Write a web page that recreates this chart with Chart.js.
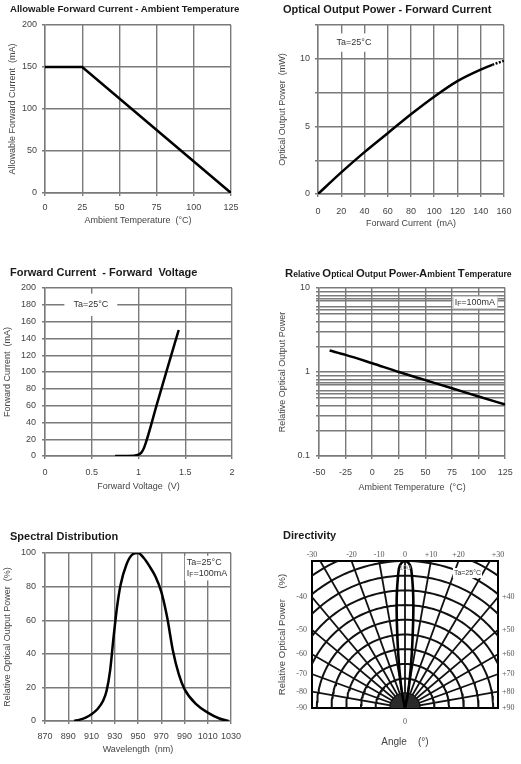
<!DOCTYPE html>
<html>
<head>
<meta charset="utf-8">
<script src="https://cdn.jsdelivr.net/npm/chart.js@4.4.1/dist/chart.umd.min.js"></script>
<style>
  body { margin: 0; background: #fff; width: 521px; height: 764px; position: relative; overflow: hidden; font-family: "Liberation Sans", Arial, sans-serif; }
  canvas { position: absolute; }
  .ttl { position: absolute; font-weight: bold; color: #1a1a1a; white-space: nowrap; font-size: 11px; line-height: 13px; }
  .ttl .c { font-size: 11.3px; }
  .ttl .s { font-size: 8.6px; }
</style>
</head>
<body>
<canvas id="c1" width="260" height="240" style="left:0;top:0"></canvas>
<canvas id="c2" width="261" height="240" style="left:260px;top:0"></canvas>
<canvas id="c3" width="260" height="240" style="left:0;top:260px"></canvas>
<canvas id="c4" width="261" height="240" style="left:260px;top:260px"></canvas>
<canvas id="c5" width="260" height="244" style="left:0;top:520px"></canvas>
<canvas id="c6" width="261" height="244" style="left:260px;top:520px"></canvas>

<div class="ttl" style="left:10px;top:3px;font-size:9.6px;line-height:12px">Allowable Forward Current - Ambient Temperature</div>
<div class="ttl" style="left:283px;top:3px">Optical Output Power - Forward Current</div>
<div class="ttl" style="left:10px;top:266px">Forward Current&nbsp; - Forward&nbsp; Voltage</div>
<div class="ttl" style="left:285px;top:267px"><span class="c">R</span><span class="s">elative </span><span class="c">O</span><span class="s">ptical </span><span class="c">O</span><span class="s">utput </span><span class="c">P</span><span class="s">ower-</span><span class="c">A</span><span class="s">mbient </span><span class="c">T</span><span class="s">emperature</span></div>
<div class="ttl" style="left:10px;top:530px">Spectral Distribution</div>
<div class="ttl" style="left:283px;top:529px">Directivity</div>

<script>
// ---- data ----
// Allowable forward current vs ambient temperature
const derateTemp = [0, 25, 125];
const derateCurrent = [150, 150, 0];

// Optical output power vs forward current
const powerCurrent = [0, 20, 40, 60, 80, 100, 120, 140, 150, 160];
const powerOut = [0, 1.6, 3.1, 4.5, 5.9, 7.2, 8.35, 9.2, 9.55, 9.85];

// Forward current vs forward voltage
const ivVoltage = [0.75, 0.95, 1.0, 1.03, 1.06, 1.2, 1.3, 1.43];
const ivCurrent = [0, 0.3, 1.5, 4, 10, 63, 101, 150];

// Relative output power vs ambient temperature (log)
const relTemp = [-40, -25, 0, 25, 50, 75, 100, 125];
const relPower = [1.8, 1.6, 1.27, 1.0, 0.8, 0.64, 0.51, 0.41];
const logMantissas = [1, 2, 3, 4, 5, 5.5, 6, 7, 7.5, 8, 9];

// Spectral distribution
const wavelength = [895, 900, 905, 910, 915, 920, 923, 926, 929, 932, 935, 940, 945, 950, 955, 960, 965, 970, 975, 980, 985, 990, 1000, 1010, 1020, 1028];
const spectrum = [0, 0.8, 2, 4, 7, 12, 18, 30, 50, 68, 81, 93, 99, 100, 97, 92, 86, 77, 62, 42, 28, 19, 10, 5, 1.5, 0];

// Directivity
const lobeAngle = [0, 1.5, 2.5, 4, 5, 6.5, 8, 10, 12, 15];
const lobePower = [100, 98.5, 95, 79, 65, 44, 29, 16, 9, 0];
const rayAngles = [-80, -70, -60, -50, -40, -30, -20, -10, 0, 10, 20, 30, 40, 50, 60, 70, 80];
const arcRadii = [10, 20, 30, 40, 50, 60, 70, 80, 90, 100, 110];
const topAngles = [-30, -20, -10, 0, 10, 20, 30];
const sideAngles = [40, 50, 60, 70, 80, 90];

// ---- helpers ----
Chart.defaults.font.family = '"Liberation Sans", Arial, sans-serif';
Chart.defaults.font.size = 9;
Chart.defaults.color = '#444';

const GRID = '#7a7a7a';
const SANS = '"Liberation Sans", Arial, sans-serif';

// text boxes like "Ta=25°C" placed at data coordinates
const notesPlugin = {
  id: 'notes',
  beforeDatasetsDraw(chart, args, opts) { drawNotes(chart, opts, false); },
  afterDatasetsDraw(chart, args, opts) { drawNotes(chart, opts, true); }
};

function drawNotes(chart, opts, top) {
  const ctx = chart.ctx;
  for (const n of opts.items || []) {
    if (!!n.top !== top) continue;
    const px = chart.scales[n.xAxis || 'x'].getPixelForValue(n.x);
    const py = chart.scales[n.yAxis || 'y'].getPixelForValue(n.y);
    const size = n.size || 9, lh = size * 1.15;
    const fam = n.family || SANS;
    ctx.save();
    const widths = n.lines.map(parts => parts.reduce((w, [t, sub]) => {
      ctx.font = (sub ? size * 0.75 : size) + 'px ' + fam;
      return w + ctx.measureText(t).width;
    }, 0));
    const tw = Math.max(...widths), th = lh * n.lines.length;
    const padX = n.padX ?? 3, padY = n.padY ?? 2;
    const left = n.align === 'left' ? px : px - tw / 2;
    const topY = py - th / 2;
    if (n.bg) {
      ctx.fillStyle = n.bg;
      ctx.fillRect(left - padX, topY - padY, tw + 2 * padX, th + 2 * padY);
    }
    if (n.border) {
      ctx.strokeStyle = n.border;
      ctx.lineWidth = 1;
      ctx.strokeRect(left - padX + 0.5, topY - padY + 0.5, tw + 2 * padX, th + 2 * padY);
    }
    ctx.fillStyle = n.color || '#333';
    ctx.textBaseline = 'middle';
    ctx.textAlign = 'left';
    n.lines.forEach((parts, i) => {
      let cx = left;
      const cy = topY + lh * (i + 0.5);
      parts.forEach(([t, sub]) => {
        ctx.font = (sub ? size * 0.75 : size) + 'px ' + fam;
        ctx.fillText(t, cx, sub ? cy + size * 0.25 : cy);
        cx += ctx.measureText(t).width;
      });
    });
    ctx.restore();
  }
}

function axis(o) {
  return {
    type: o.type || 'linear',
    position: o.position,
    min: o.min,
    max: o.max,
    afterBuildTicks: o.ticksAt,
    ticks: { stepSize: o.step, padding: o.pad, color: '#444', font: { size: 9 }, autoSkip: false, maxRotation: 0, callback: o.cb },
    grid: { color: GRID, lineWidth: 1.4, tickLength: 3 },
    border: { color: GRID, width: 1.4 },
    title: { display: true, text: o.title, color: '#444', font: { size: 9 }, padding: o.tpad },
    afterFit: s => { if (s.isHorizontal()) s.height = o.size; else s.width = o.size; }
  };
}

function curve(xs, ys, extra) {
  return Object.assign({
    data: xs.map((x, i) => ({ x, y: ys[i] })),
    borderColor: '#000',
    borderWidth: 2.5,
    pointRadius: 0,
    fill: false
  }, extra || {});
}

function opts(pad, scales, notes) {
  return {
    responsive: false,
    animation: false,
    events: [],
    layout: { padding: pad },
    plugins: { legend: { display: false }, tooltip: { enabled: false }, notes: { items: notes || [] } },
    scales
  };
}

function make(id, datasets, options) {
  return new Chart(document.getElementById(id), { type: 'line', data: { datasets }, options, plugins: [notesPlugin] });
}

// ---- 1: Allowable Forward Current - Ambient Temperature ----
make('c1', [curve(derateTemp, derateCurrent)], opts(
  { left: 0, right: 29, top: 25, bottom: 0 },
  {
    x: axis({ position: 'bottom', min: 0, max: 125, step: 25, pad: 6.6, size: 47, title: 'Ambient Temperature  (°C)', tpad: { top: 0, bottom: 14 } }),
    y: axis({ position: 'left', min: 0, max: 200, step: 50, pad: 5, size: 45, title: 'Allowable Forward Current  (mA)', tpad: { top: 7, bottom: 0 } })
  }
));

// ---- 2: Optical Output Power - Forward Current ----
make('c2', [curve(powerCurrent, powerOut, {
  cubicInterpolationMode: 'monotone',
  segment: { borderDash: ctx => ctx.p0DataIndex >= powerCurrent.length - 2 ? [2, 1.5] : undefined }
})], opts(
  { left: 0, right: 16, top: 25, bottom: 0 },
  {
    x: axis({ position: 'bottom', min: 0, max: 160, step: 20, pad: 9.6, size: 46, title: 'Forward Current  (mA)', tpad: { top: 0, bottom: 10.6 } }),
    y: axis({ position: 'left', min: 0, max: 12.5, step: 2.5, pad: 5, size: 58, title: 'Optical Output Power  (mW)', tpad: { top: 17, bottom: 0 },
      cb: v => (v % 5 === 0 ? String(v) : '') })
  },
  [{ x: 31, y: 11.2, lines: [[['Ta=25°C']]], bg: '#fff', padX: 4, padY: 4 }]
));

// ---- 3: Forward Current - Forward Voltage ----
make('c3', [curve(ivVoltage, ivCurrent, { cubicInterpolationMode: 'monotone' })], opts(
  { left: 0, right: 28, top: 28, bottom: 0 },
  {
    x: axis({ position: 'bottom', min: 0, max: 2, step: 0.5, pad: 8.3, size: 44, title: 'Forward Voltage  (V)', tpad: { top: 0, bottom: 7.9 } }),
    y: axis({ position: 'left', min: 0, max: 200, step: 20, pad: 6, size: 45, title: 'Forward Current  (mA)', tpad: { top: 2.6, bottom: 0 } })
  },
  [{ x: 0.49, y: 180, lines: [[['Ta=25°C']]], bg: '#fff', padX: 9, padY: 6 }]
));

// ---- 4: Relative Optical Output Power - Ambient Temperature ----
make('c4', [curve(relTemp, relPower, { cubicInterpolationMode: 'monotone' })], opts(
  { left: 0, right: 14, top: 28, bottom: 0 },
  {
    x: axis({ position: 'bottom', min: -50, max: 125, step: 25, pad: 8.3, size: 44, title: 'Ambient Temperature  (°C)', tpad: { top: 0, bottom: 7.3 } }),
    y: axis({ type: 'logarithmic', position: 'left', min: 0.1, max: 10, pad: 6, size: 59, title: 'Relative Optical Output Power', tpad: { top: 17.3, bottom: 0 },
      ticksAt: s => {
        const vals = [];
        [0.1, 1].forEach(d => logMantissas.forEach(m => vals.push(+(d * m).toPrecision(3))));
        vals.push(10);
        s.ticks = vals.map(v => ({ value: v }));
      },
      cb: v => ([0.1, 1, 10].includes(v) ? String(v) : '') })
  },
  [{ x: 96.5, y: 6.8, lines: [[['I'], ['F', 1], ['=100mA']]], bg: '#fff', border: '#c8c8c8', padX: 2, padY: 1 }]
));

// ---- 5: Spectral Distribution ----
make('c5', [curve(wavelength, spectrum, { cubicInterpolationMode: 'monotone' })], opts(
  { left: 0, right: 29, top: 33, bottom: 0 },
  {
    x: axis({ position: 'bottom', min: 870, max: 1030, step: 20, pad: 7.3, size: 43, title: 'Wavelength  (nm)', tpad: { top: 0, bottom: 8.6 } }),
    y: axis({ position: 'left', min: 0, max: 100, step: 20, pad: 6, size: 45, title: 'Relative Optical Output Power  (%)', tpad: { top: 2, bottom: 0 } })
  },
  [{ x: 992, y: 91, align: 'left', lines: [[['Ta=25°C']], [['I'], ['F', 1], ['=100mA']]], bg: '#fff', padX: 2, padY: 2 }]
));

// ---- 6: Directivity (polar grid drawn in a rectangle) ----
const xHalf = 63.3;
const rad = d => d * Math.PI / 180;
const polar = (r, a) => ({ x: r * Math.sin(rad(a)), y: r * Math.cos(rad(a)) });

const lobePts = [];
for (let i = lobeAngle.length - 1; i >= 0; i--) lobePts.push(polar(lobePower[i], -lobeAngle[i]));
for (let i = 1; i < lobeAngle.length; i++) lobePts.push(polar(lobePower[i], lobeAngle[i]));

const sweep = r => { const pts = []; for (let a = -90; a <= 90; a += 2) pts.push(polar(r, a)); return pts; };
const line = (data, w, extra) => Object.assign({ data, borderColor: '#111', borderWidth: w, pointRadius: 0, fill: false, order: 2 }, extra || {});

const dirSets = [
  line(lobePts, 2.6, { tension: 0.3, borderColor: '#000', order: 0 }),
  line(sweep(arcRadii[0]), 0, { fill: 'origin', backgroundColor: '#2a2a2a', order: 1 }),
  ...arcRadii.map(r => line(sweep(r), 2)),
  ...rayAngles.map(a => line([polar(0, a), polar(130, a)], 1.8))
];

const fmtSigned = a => (a > 0 ? '+' + a : String(a));
const dirAxis = (o) => ({
  type: 'linear',
  position: o.position,
  min: o.min,
  max: o.max,
  afterBuildTicks: s => { s.ticks = o.at.map(v => ({ value: v })); },
  ticks: { padding: o.pad, color: '#555', font: { family: '"Liberation Serif", "Times New Roman", serif', size: 8 }, autoSkip: false, maxRotation: 0,
    callback: (v, i) => o.labels[i] },
  grid: { display: false, drawTicks: false },
  border: { color: '#000', width: 2 },
  title: { display: !!o.title, text: o.title || '', color: '#444', font: { size: o.tsize || 9 }, padding: o.tpad },
  afterFit: s => { if (s.isHorizontal()) s.height = o.size; else s.width = o.size; }
});

const topAt = topAngles.map(a => (Math.abs(a) >= 30 ? Math.sign(a) * xHalf : 100 * Math.tan(rad(a))));
const sideAt = sideAngles.map(a => (a === 90 ? 0 : xHalf / Math.tan(rad(a))));

make('c6', dirSets, opts(
  { left: 0, right: 0, top: 0, bottom: 0 },
  {
    x: dirAxis({ position: 'bottom', min: -xHalf, max: xHalf, at: [0], labels: ['0'], pad: 9.2, size: 56,
      title: 'Angle    (°)', tsize: 10, tpad: { top: 0, bottom: 16 } }),
    xTop: dirAxis({ position: 'top', min: -xHalf, max: xHalf, at: topAt, labels: topAngles.map(fmtSigned), pad: 1.2, size: 41 }),
    y: dirAxis({ position: 'left', min: 0, max: 100, at: sideAt, labels: sideAngles.map(a => '-' + a), pad: 5, size: 52,
      title: 'Relative Optical Power    (%)', tsize: 9.5, tpad: { top: 16.6, bottom: 0 } }),
    yR: dirAxis({ position: 'right', min: 0, max: 100, at: sideAt, labels: sideAngles.map(a => '+' + a), pad: 4, size: 23 })
  },
  [
    { x: 42.5, y: 91.8, size: 7, top: true, lines: [[['Ta=25°C']]], bg: '#fff', padX: 1, padY: 1 },
    { x: 0, y: 95.5, size: 7, top: true, color: '#9a9a9a', lines: [[['100']]] }
  ]
));
</script>
</body>
</html>
